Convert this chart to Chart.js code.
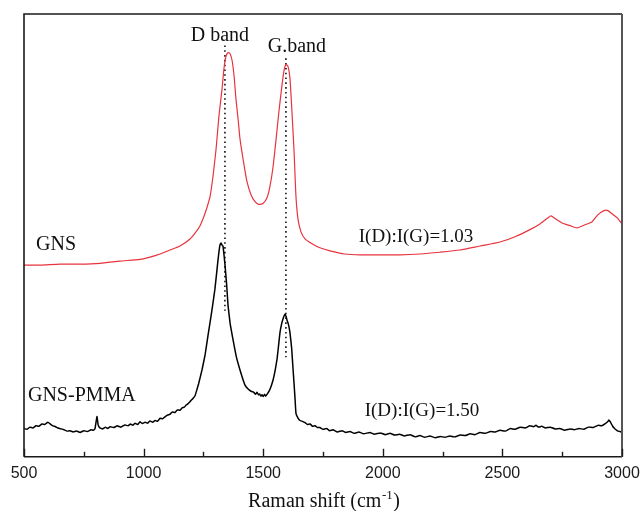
<!DOCTYPE html>
<html>
<head>
<meta charset="utf-8">
<script src="https://cdn.jsdelivr.net/npm/chart.js@4.4.0/dist/chart.umd.min.js"></script>
<style>
  html, body { margin: 0; padding: 0; background: #fff; }
  #wrap { width: 644px; height: 511px; position: relative; }
</style>
</head>
<body>
<div id="wrap"><canvas id="c" width="644" height="511"></canvas></div>
<script>
// Raman spectrum of graphene nanosheets (GNS), offset above the GNS-PMMA composite
const ramanShiftGNS = [500, 567, 650, 734, 818, 901, 985, 1027, 1069, 1110, 1152, 1194, 1219, 1236, 1253, 1265, 1278, 1290, 1303, 1315, 1328, 1336, 1344, 1353, 1361, 1370, 1378, 1386, 1395, 1403, 1416, 1432, 1449, 1466, 1482, 1499, 1516, 1528, 1541, 1553, 1566, 1579, 1587, 1595, 1604, 1612, 1620, 1629, 1637, 1646, 1658, 1675, 1704, 1737, 1779, 1842, 1905, 1988, 2072, 2155, 2239, 2323, 2406, 2490, 2553, 2615, 2657, 2691, 2703, 2720, 2749, 2783, 2812, 2845, 2875, 2900, 2925, 2941, 2958, 2979, 3000];
const intensityGNS = [433, 433, 435, 435, 437, 442, 446, 451, 458, 467, 476, 492, 508, 522, 544, 563, 588, 633, 695, 770, 831, 877, 904, 913, 911, 895, 861, 809, 763, 718, 672, 622, 592, 576, 570, 572, 585, 610, 654, 713, 781, 841, 872, 886, 881, 854, 781, 690, 588, 535, 508, 492, 481, 472, 465, 458, 456, 456, 456, 458, 462, 467, 476, 485, 497, 513, 526, 540, 544, 538, 528, 522, 517, 524, 531, 547, 556, 556, 549, 540, 526];

// Raman spectrum of the GNS-PMMA composite
const ramanShiftPMMA = [500, 512, 525, 537, 550, 562, 575, 587, 600, 610, 621, 632, 642, 655, 667, 680, 692, 705, 720, 735, 750, 765, 780, 790, 797, 805, 810, 816, 828, 840, 850, 860, 875, 890, 905, 922, 935, 945, 955, 964, 975, 985, 995, 1006, 1016, 1027, 1038, 1048, 1058, 1069, 1079, 1089, 1100, 1110, 1120, 1131, 1141, 1152, 1162, 1170, 1178, 1186, 1193, 1200, 1208, 1215, 1222, 1230, 1244, 1257, 1269, 1284, 1298, 1311, 1319, 1324, 1328, 1332, 1340, 1347, 1353, 1362, 1374, 1388, 1403, 1414, 1424, 1437, 1449, 1456, 1462, 1468, 1474, 1480, 1485, 1490, 1495, 1500, 1505, 1510, 1516, 1528, 1541, 1550, 1558, 1564, 1570, 1577, 1583, 1591, 1595, 1600, 1606, 1612, 1619, 1625, 1629, 1633, 1637, 1645, 1654, 1664, 1675, 1685, 1696, 1706, 1717, 1727, 1737, 1750, 1765, 1778, 1792, 1810, 1830, 1845, 1863, 1880, 1900, 1920, 1946, 1965, 1990, 2010, 2030, 2050, 2070, 2090, 2114, 2135, 2155, 2175, 2197, 2220, 2240, 2260, 2280, 2300, 2323, 2345, 2365, 2385, 2406, 2428, 2450, 2470, 2490, 2512, 2533, 2553, 2574, 2595, 2615, 2630, 2640, 2652, 2665, 2680, 2700, 2720, 2740, 2760, 2783, 2800, 2820, 2840, 2860, 2880, 2900, 2915, 2930, 2940, 2945, 2950, 2955, 2961, 2967, 2975, 2983, 2992, 3000];
const intensityPMMA = [64, 62, 67, 65, 70, 69, 74, 73, 78, 74, 70, 68, 65, 63, 61, 58, 59, 56, 58, 55, 59, 57, 61, 60, 64, 91, 72, 66, 63, 67, 64, 68, 66, 70, 67, 72, 70, 74, 71, 76, 73, 79, 75, 78, 76, 81, 78, 82, 80, 87, 86, 90, 94, 96, 101, 100, 106, 105, 111, 112, 117, 120, 124, 128, 133, 138, 150, 165, 196, 230, 273, 325, 378, 444, 478, 483, 478, 476, 435, 390, 342, 300, 264, 225, 196, 177, 162, 153, 148, 147, 145, 141, 146, 140, 142, 137, 140, 136, 141, 137, 141, 152, 173, 195, 221, 250, 280, 300, 312, 322, 318, 308, 298, 280, 245, 196, 165, 132, 98, 88, 82, 80, 77, 73, 74, 69, 70, 66, 66, 62, 64, 59, 61, 56, 59, 55, 57, 53, 56, 52, 55, 51, 54, 50, 53, 49, 51, 47, 50, 45, 48, 44, 47, 43, 46, 44, 47, 45, 49, 48, 52, 50, 55, 53, 57, 56, 60, 58, 64, 62, 67, 65, 70, 68, 71, 67, 69, 65, 67, 63, 64, 60, 63, 61, 64, 62, 67, 66, 71, 70, 75, 79, 83, 80, 75, 69, 65, 61, 58, 57, 55];

// Band positions (cm-1) and the extent of their dotted guide lines (a.u.)
const dBandShift = [1340, 1340];
const dBandGuide = [929, 330];
const gBandShift = [1595, 1595];
const gBandGuide = [900, 225];

// X axis range and ticks
const xMin = 500, xMax = 3000;
const xMajorStep = 500, xMinorStep = 250;
const yMin = 0, yMax = 1000;

// Text labels placed in data coordinates
const labelTexts = ['D band', 'G.band', 'GNS', 'GNS-PMMA', 'I(D):I(G)=1.03', 'I(D):I(G)=1.50'];
const labelShift = [1319, 1641, 634, 742, 2139, 2164];
const labelIntensity = [950, 925, 478, 139, 497, 103];
const labelSizes = [20, 20, 20, 20, 19, 19];

const toPoints = (xs, ys) => xs.map((x, i) => ({ x: x, y: ys[i] }));

const serif = '"Liberation Serif", "Times New Roman", Times, serif';
const sans = '"Liberation Sans", Arial, Helvetica, sans-serif';

const decorations = {
  id: 'decorations',
  afterDatasetsDraw(chart) {
    const ctx = chart.ctx;
    const area = chart.chartArea;
    const xs = chart.scales.x;
    const ys = chart.scales.y;
    ctx.save();

    // frame
    ctx.strokeStyle = '#1a1a1a';
    ctx.lineWidth = 1.6;
    ctx.beginPath();
    ctx.moveTo(area.left, area.bottom);
    ctx.lineTo(area.left, area.top);
    ctx.lineTo(area.right, area.top);
    ctx.stroke();
    ctx.beginPath();
    ctx.moveTo(area.left, area.bottom);
    ctx.lineTo(area.right, area.bottom);
    ctx.stroke();
    ctx.strokeStyle = '#555';
    ctx.lineWidth = 2;
    ctx.beginPath();
    ctx.moveTo(area.right, area.top);
    ctx.lineTo(area.right, area.bottom);
    ctx.stroke();

    // inward ticks on the bottom axis
    ctx.strokeStyle = '#1a1a1a';
    ctx.lineWidth = 1.4;
    for (let v = xMin; v <= xMax; v += xMinorStep) {
      const px = Math.round(xs.getPixelForValue(v)) + 0.5;
      const len = (v % xMajorStep === 0) ? 8 : 5;
      ctx.beginPath();
      ctx.moveTo(px, area.bottom);
      ctx.lineTo(px, area.bottom - len);
      ctx.stroke();
    }

    // labels
    ctx.fillStyle = '#111';
    ctx.textAlign = 'center';
    ctx.textBaseline = 'middle';
    labelTexts.forEach((t, i) => {
      ctx.font = labelSizes[i] + 'px ' + serif;
      ctx.fillText(t, xs.getPixelForValue(labelShift[i]), ys.getPixelForValue(labelIntensity[i]));
    });

    // axis title with superscript
    const main = 'Raman shift (cm';
    const sup = '-1';
    const close = ')';
    ctx.textAlign = 'left';
    ctx.textBaseline = 'alphabetic';
    ctx.font = '20px ' + serif;
    const wMain = ctx.measureText(main).width;
    const wClose = ctx.measureText(close).width;
    ctx.font = '13px ' + serif;
    const wSup = ctx.measureText(sup).width;
    const total = wMain + wSup + wClose + 1;
    const cx = (area.left + area.right) / 2 + 1;
    let x0 = cx - total / 2;
    const base = 507;
    ctx.font = '20px ' + serif;
    ctx.fillText(main, x0, base);
    ctx.font = '13px ' + serif;
    ctx.fillText(sup, x0 + wMain + 0.5, base - 8);
    ctx.font = '20px ' + serif;
    ctx.fillText(close, x0 + wMain + wSup + 1, base);

    ctx.restore();
  }
};

new Chart(document.getElementById('c'), {
  type: 'line',
  data: {
    datasets: [
      {
        label: 'GNS',
        data: toPoints(ramanShiftGNS, intensityGNS),
        borderColor: '#e8333d',
        borderWidth: 1.2,
        pointRadius: 0,
        tension: 0.2,
        fill: false
      },
      {
        label: 'GNS-PMMA',
        data: toPoints(ramanShiftPMMA, intensityPMMA),
        borderColor: '#000',
        borderWidth: 1.5,
        pointRadius: 0,
        tension: 0.1,
        fill: false
      },
      {
        label: 'D band',
        data: toPoints(dBandShift, dBandGuide),
        borderColor: '#111',
        borderWidth: 1.6,
        borderDash: [1.6, 3.2],
        pointRadius: 0,
        fill: false
      },
      {
        label: 'G band',
        data: toPoints(gBandShift, gBandGuide),
        borderColor: '#111',
        borderWidth: 1.6,
        borderDash: [1.6, 3.2],
        pointRadius: 0,
        fill: false
      }
    ]
  },
  options: {
    responsive: false,
    animation: false,
    devicePixelRatio: 1,
    layout: { padding: { left: 24, right: 22, top: 14, bottom: 21 } },
    plugins: { legend: { display: false }, tooltip: { enabled: false } },
    scales: {
      x: {
        type: 'linear',
        min: xMin,
        max: xMax,
        grid: { display: false, drawTicks: false },
        border: { display: false },
        afterFit: (scale) => { scale.paddingLeft = 0; scale.paddingRight = 0; },
        ticks: {
          stepSize: xMinorStep,
          autoSkip: false,
          maxRotation: 0,
          padding: 7,
          color: '#1a1a1a',
          font: { family: sans, size: 16 },
          callback: (v) => (v % xMajorStep === 0 ? String(v) : '')
        }
      },
      y: {
        display: false,
        min: yMin,
        max: yMax
      }
    }
  },
  plugins: [decorations]
});
</script>
</body>
</html>
